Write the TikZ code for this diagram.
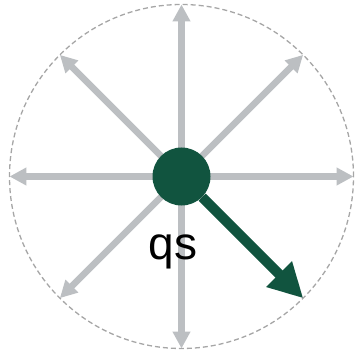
\documentclass[tikz,border=0pt]{standalone}
\usepackage{fontspec}
\setmainfont{Liberation Sans}
\usetikzlibrary{arrows.meta}
\definecolor{raygray}{RGB}{188,191,194}
\definecolor{deepgreen}{RGB}{17,84,63}
\tikzset{
  ray/.style={line width=6.5pt, color=raygray, -{Triangle[length=17pt,width=17pt]}},
  move/.style={line width=10pt, color=deepgreen, -{Triangle[length=34pt,width=34pt]}},
}
\begin{document}
\begin{tikzpicture}[x=1pt, y=1pt]
  \useasboundingbox (-181.5, -184.5) rectangle (176.5, 176.5);
  \draw[dash pattern=on 5pt off 3pt, line width=1.3pt, color=gray!70] (0, 0) circle (172);
  \coordinate (hub) at (0, 0);
  \foreach \a in {0, 45, ..., 315}
    \coordinate (rim\a) at (\a:172);
  \foreach \a in {0, 45, ..., 315}
    \draw[ray] (hub) -- (rim\a);
  \node[circle, fill=deepgreen, minimum size=58pt, inner sep=0pt] (dot) at (hub) {};
  \draw[move] (dot.-45) -- (rim315);
  \node[anchor=base, font=\fontsize{46}{50}\selectfont] (qs) at (-8.5, -82.8) {qs};
\end{tikzpicture}
\end{document}
